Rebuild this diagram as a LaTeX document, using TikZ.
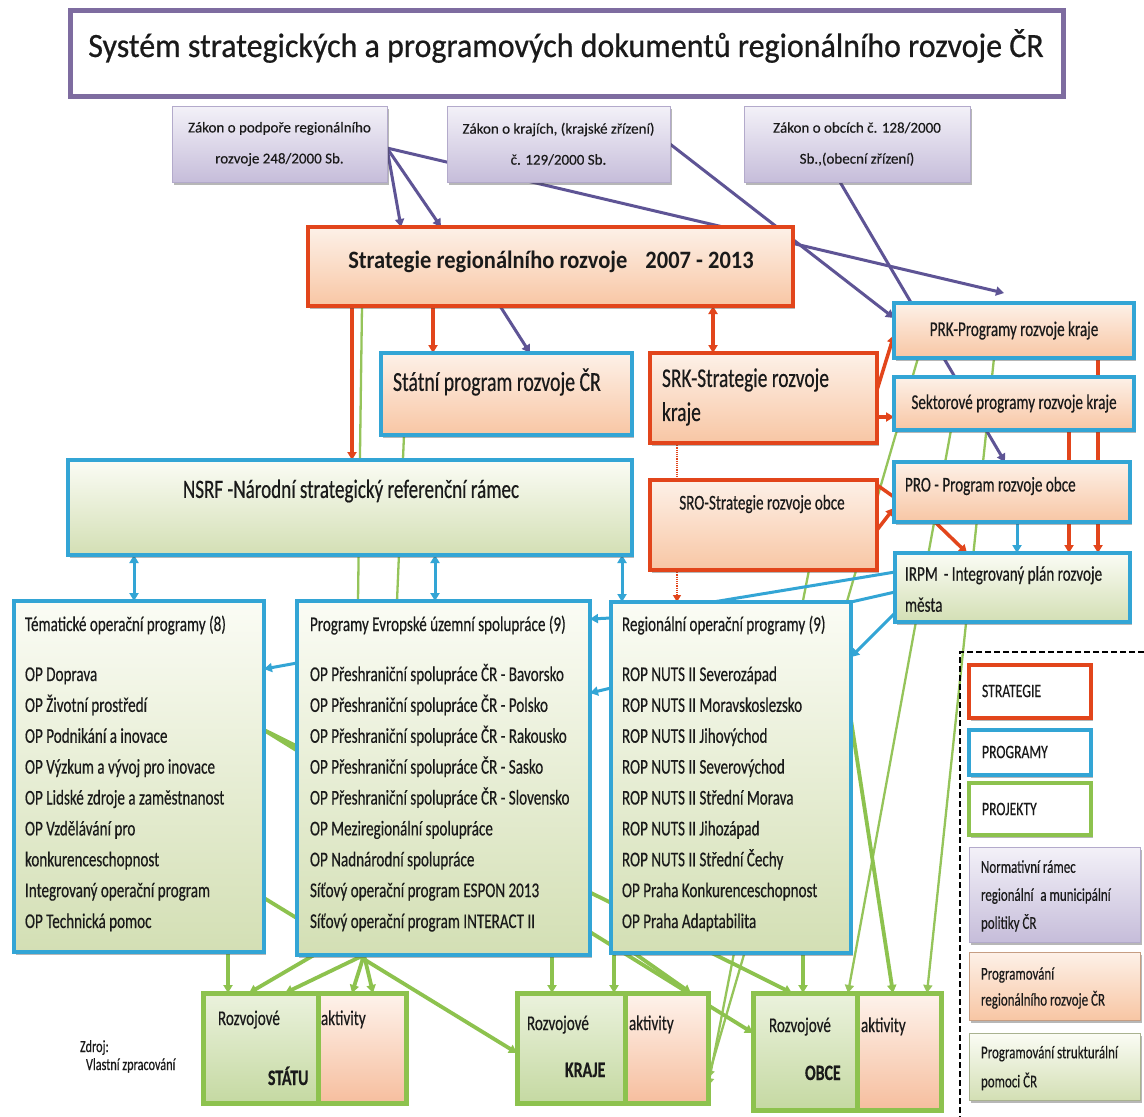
\documentclass[tikz,border=0pt]{standalone}
\usepackage{fontspec}
\setmainfont{Carlito}[FakeBold=0.3]
\newfontfamily\fA{Carlito}[FakeStretch=0.72,FakeBold=0.4]
\newfontfamily\fT{Carlito}[FakeStretch=0.94,FakeBold=0.6]
\newfontfamily\fS{Carlito}[FakeStretch=0.9]
\usetikzlibrary{arrows.meta,shadows,calc}
\pgfdeclarelayer{bg}
\pgfsetlayers{bg,main}
\definecolor{cpur}{HTML}{5E5495}
\definecolor{ctitle}{HTML}{7E6CA0}
\definecolor{lawT}{HTML}{F3F1F8}
\definecolor{lawB}{HTML}{C6BDDA}
\definecolor{lawD}{HTML}{B3AACB}
\definecolor{cred}{HTML}{E2451B}
\definecolor{peachT}{HTML}{FDF1E8}
\definecolor{peachB}{HTML}{F8C6A4}
\definecolor{cblue}{HTML}{33A5D5}
\definecolor{grT}{HTML}{FBFCF5}
\definecolor{grB}{HTML}{D3DFB4}
\definecolor{cgreen}{HTML}{8DC24E}
\definecolor{cgl}{HTML}{95C45A}
\definecolor{txt}{HTML}{1A1A1A}
\definecolor{rozT}{HTML}{EBF2DD}
\definecolor{rozBt}{HTML}{C5D9A2}
\definecolor{aktT}{HTML}{FEF3EC}
\definecolor{aktB}{HTML}{F6BE9E}
\tikzset{
  shad/.style={drop shadow={shadow xshift=2pt,shadow yshift=-3pt,opacity=0.4,fill=black!70}},
  bx/.style={anchor=north west,inner sep=0pt,outer sep=0pt,text=txt,shad},
  titlebox/.style={bx,draw=ctitle,line width=5pt,fill=white},
  lawbox/.style={bx,draw=lawD,line width=0.8pt,top color=lawT,bottom color=lawB,align=center,font=\fontsize{15}{31}\selectfont},
  redbox/.style={bx,draw=cred,line width=3.5pt,top color=peachT,bottom color=peachB},
  bluepeach/.style={bx,draw=cblue,line width=3.5pt,top color=peachT,bottom color=peachB,font=\fA\fontsize{21}{25}\selectfont},
  bluegreen/.style={bx,draw=cblue,line width=3.5pt,top color=grT,bottom color=grB},
  rozleft/.style={bx,draw=cgreen,line width=5pt,top color=rozT,bottom color=rozBt},
  rozright/.style={bx,draw=cgreen,line width=5pt,top color=aktT,bottom color=aktB},
  legbox/.style={bx,line width=4pt,fill=white,minimum width=122pt},
  lbl/.style={inner sep=0pt,outer sep=0pt,text=txt},
  it/.style={lbl,anchor=base west,font=\fA\fontsize{21}{25}\selectfont},
  itb/.style={lbl,anchor=base west,font=\fA\bfseries\fontsize{22}{26}\selectfont},
  lg/.style={lbl,anchor=west,align=left,font=\fA\fontsize{19}{28}\selectfont},
  tip/.style={-{Triangle[length=8pt,width=9pt]}},
  tips/.style={{Triangle[length=8pt,width=9pt]}-{Triangle[length=8pt,width=9pt]}},
  pl/.style={draw=cpur,line width=3pt,tip},
  rl/.style={draw=cred,line width=3.5pt},
  bl/.style={draw=cblue,line width=3pt},
  gl/.style={draw=cgl,line width=2.3pt},
  gL/.style={draw=cgreen,line width=3.8pt,tip},
}
\begin{document}
\begin{tikzpicture}[x=1pt,y=-1pt]
\useasboundingbox (0,0) rectangle (1144,1117);

% title
\node[titlebox,minimum width=993pt,minimum height=86pt] (title) at (70,10) {};
\node[lbl,font=\fT\fontsize{34}{40}\selectfont] (titletxt) at (566,46) {Systém strategických a programových dokumentů regionálního rozvoje ČR};

% laws
\node[lawbox,minimum width=215pt,minimum height=76pt] (law1) at (172,106) {Zákon o podpoře regionálního\\rozvoje 248/2000 Sb.};
\node[lawbox,minimum width=223pt,minimum height=76pt] (law2) at (447,106) {Zákon o krajích, (krajské zřízení)\\č. 129/2000 Sb.};
\node[lawbox,minimum width=226pt,minimum height=76pt] (law3) at (744,106) {Zákon o obcích č. 128/2000\\Sb.,(obecní zřízení)};

% strategy
\node[redbox,minimum width=485pt,minimum height=79pt] (strat) at (308,227) {};
\node[lbl,font=\fS\bfseries\fontsize{25}{30}\selectfont] (strattxt) at (551,262) {Strategie regionálního rozvoje\hspace{18pt}2007 - 2013};

\node[bluepeach,minimum width=251pt,minimum height=82pt] (statni) at (381,353) {};
\node[lbl,anchor=west,font=\fA\fontsize{27.5}{33}\selectfont] (statnitxt) at (393,382) {Státní program rozvoje ČR};

\node[redbox,minimum width=227pt,minimum height=90pt] (srk) at (650,353) {};
\node[lbl,anchor=west,align=left,font=\fA\fontsize{27}{34}\selectfont] (srktxt) at (662,397) {SRK-Strategie rozvoje\\kraje};

\node[bluepeach,minimum width=240pt,minimum height=55pt] (prk) at (894,303) {PRK-Programy rozvoje kraje};
\node[bluepeach,minimum width=240pt,minimum height=53pt] (sekt) at (894,377) {Sektorové programy rozvoje kraje};
\node[bluepeach,minimum width=236pt,minimum height=60pt] (pro) at (894,462) {};
\node[lbl,anchor=west,font=\fA\fontsize{21}{25}\selectfont] (protxt) at (905,486) {PRO - Program rozvoje obce};
\node[bluegreen,minimum width=235pt,minimum height=69pt] (irpm) at (895,553) {};
\node[lbl,anchor=west,align=left,font=\fA\fontsize{21}{31}\selectfont] (irpmtxt) at (905,589) {IRPM\hspace{6pt}- Integrovaný plán rozvoje\\města};

\node[redbox,minimum width=227pt,minimum height=90pt] (sro) at (650,480) {};
\node[lbl,font=\fA\fontsize{21}{25}\selectfont] (srotxt) at (762,504) {SRO-Strategie rozvoje obce};

\node[bluegreen,minimum width=564pt,minimum height=95pt] (nsrf) at (68,460) {};
\node[lbl,font=\fA\fontsize{26.5}{30}\selectfont] (nsrftxt) at (351,491) {NSRF -Národní strategický referenční rámec};

% operational programmes
\node[bluegreen,minimum width=250pt,minimum height=351pt] (tem) at (14,601) {};
\node[bluegreen,minimum width=293pt,minimum height=354pt] (evr) at (297,601) {};
\node[bluegreen,minimum width=240pt,minimum height=351pt] (reg) at (611,602) {};

\node[it] (temh) at (25,631) {Tématické operační programy (8)};
\foreach \itm [count=\i] in {OP Doprava,OP Životní prostředí,OP Podnikání a inovace,OP Výzkum a vývoj pro inovace,OP Lidské zdroje a zaměstnanost,OP Vzdělávání pro,konkurenceschopnost,Integrovaný operační program,OP Technická pomoc}
  \node[it] (tem\i) at (25,{681+30.875*(\i-1)}) {\itm};

\node[it] (evrh) at (310,631) {Programy Evropské územní spolupráce (9)};
\foreach \itm [count=\i] in {OP Přeshraniční spolupráce ČR - Bavorsko,OP Přeshraniční spolupráce ČR - Polsko,OP Přeshraniční spolupráce ČR - Rakousko,OP Přeshraniční spolupráce ČR - Sasko,OP Přeshraniční spolupráce ČR - Slovensko,OP Meziregionální spolupráce,OP Nadnárodní spolupráce,Síťový operační program ESPON 2013,Síťový operační program INTERACT II}
  \node[it] (evr\i) at (310,{681+30.875*(\i-1)}) {\itm};

\node[it] (regh) at (622,631) {Regionální operační programy (9)};
\foreach \itm [count=\i] in {ROP NUTS II Severozápad,ROP NUTS II Moravskoslezsko,ROP NUTS II Jihovýchod,ROP NUTS II Severovýchod,ROP NUTS II Střední Morava,ROP NUTS II Jihozápad,ROP NUTS II Střední Čechy,OP Praha Konkurenceschopnost,OP Praha Adaptabilita}
  \node[it] (reg\i) at (622,{681+30.875*(\i-1)}) {\itm};

% development activity boxes
\node[rozleft,minimum width=115pt,minimum height=110pt] (statuA) at (203,993) {};
\node[rozright,minimum width=88pt,minimum height=110pt] (statuB) at (318,993) {};
\node[it] (statuR) at (218,1025) {Rozvojové};
\node[it] (statuK) at (321,1025) {aktivity};
\node[itb] (statuL) at (268,1085) {STÁTU};

\node[rozleft,minimum width=108pt,minimum height=110pt] (krajeA) at (517,993) {};
\node[rozright,minimum width=83pt,minimum height=110pt] (krajeB) at (625,993) {};
\node[it] (krajeR) at (527,1030) {Rozvojové};
\node[it] (krajeK) at (629,1030) {aktivity};
\node[itb] (krajeL) at (565,1077) {KRAJE};

\node[rozleft,minimum width=104pt,minimum height=117pt] (obceA) at (753,993) {};
\node[rozright,minimum width=84pt,minimum height=117pt] (obceB) at (857,993) {};
\node[it] (obceR) at (769,1032) {Rozvojové};
\node[it] (obceK) at (861,1032) {aktivity};
\node[itb] (obceL) at (805,1080) {OBCE};

\node[lbl,anchor=base west,font=\fA\fontsize{17}{20}\selectfont] (zdroj) at (80,1052) {Zdroj:};
\node[lbl,anchor=base west,font=\fA\fontsize{17}{20}\selectfont] (vlastni) at (86,1070) {Vlastní zpracování};

% legend
\coordinate (dA) at (1144,652);
\coordinate (dB) at (960,652);
\coordinate (dC) at (960,1117);
\draw[line width=1.3pt,dash pattern=on 6pt off 3pt] (dA) -- (dB) -- (dC);
\node[legbox,draw=cred,minimum height=53pt] (lgS) at (969,665) {};
\node[lg] (lgStxt) at (982,691) {STRATEGIE};
\node[legbox,draw=cblue,minimum height=45pt] (lgP) at (969,730) {};
\node[lg] (lgPtxt) at (982,752) {PROGRAMY};
\node[legbox,draw=cgreen,minimum height=52pt] (lgJ) at (969,783) {};
\node[lg] (lgJtxt) at (982,809) {PROJEKTY};
\node[bx,draw=lawD,line width=0.8pt,top color=lawT,bottom color=lawB,minimum width=171pt,minimum height=95pt] (lgN) at (969,847) {};
\node[lg,font=\fA\fontsize{18}{28}\selectfont] (lgNtxt) at (981,896) {Normativní rámec\\regionální\hspace{4pt} a municipální\\politiky ČR};
\node[bx,draw=peachB!80!black,line width=0.6pt,top color=peachT,bottom color=peachB,minimum width=171pt,minimum height=68pt] (lgR) at (969,952) {};
\node[lg,font=\fA\fontsize{18}{26}\selectfont] (lgRtxt) at (981,988) {Programování\\regionálního rozvoje ČR};
\node[bx,draw=grB!80!black,line width=0.6pt,top color=grT,bottom color=grB,minimum width=171pt,minimum height=67pt] (lgT) at (969,1033) {};
\node[lg,font=\fA\fontsize{18}{29}\selectfont] (lgTtxt) at (981,1068) {Programování strukturální\\pomoci ČR};

\coordinate (pfree) at (1004,293);

% connectors behind the boxes
\begin{pgfonlayer}{bg}
\fill[white] (0,0) rectangle (1144,1117);
% green upper
\draw[gl] ([xshift=54pt]strat.south west) -- ([xshift=61pt]evr.north west);
\draw[gl] ([xshift=23pt]statni.south west) -- ([xshift=100pt]evr.north west);
\draw[gl,tip] ([xshift=100pt]prk.south west) -- ([xshift=70pt]obceB.north west);
\draw[gl,tip] ([xshift=57pt]sekt.south west) -- ([xshift=95pt]obceA.north west);
\draw[gl,tip] ([xshift=24pt]prk.south west) -- ([yshift=-85pt]krajeB.north east);
\draw[gl,tip] ([xshift=159pt]sro.south west) -- ([yshift=-93pt]krajeB.north east);
% green lower
\draw[gL] ([xshift=214pt]tem.south west) -- ([xshift=25pt]statuA.north west);
\draw[gL] ([xshift=17pt]evr.south west) -- ([xshift=46pt]statuA.north west);
\draw[gL] ([xshift=67pt]evr.south west) -- ([xshift=82pt]statuA.north west);
\draw[gL] ([xshift=67pt]evr.south west) -- ([xshift=34pt]statuB.north west);
\draw[gL] ([xshift=67pt]evr.south west) -- ([xshift=55pt]statuB.north west);
\draw[gL] ([yshift=-297pt]tem.north east) -- ([yshift=-60pt]krajeA.north west);
\draw[gL] ([xshift=255pt]evr.south west) -- ([xshift=35pt]krajeA.north west);
\draw[gL] ([xshift=3pt]reg.south west) -- ([xshift=97pt]krajeA.north west);
\draw[gL] ([xshift=23pt]reg.south west) -- ([xshift=66pt]krajeB.north west);
\draw[gL] ([xshift=192pt]reg.south west) -- ([xshift=50pt]obceA.north west);
\draw[gL] ([yshift=-118pt]reg.north east) -- ([xshift=36pt]obceB.north west);
\draw[gL] ([yshift=-129pt]tem.north east) -- ([yshift=-40pt]obceA.north west);
\draw[gL] ([yshift=-129pt]tem.north east) -- ([xshift=39pt]obceA.north west);
% purple
\draw[pl] ([yshift=-4pt]law1.east) -- ([xshift=93pt]strat.north west);
\draw[pl] ([yshift=-4pt]law1.east) -- ([xshift=133pt]strat.north west);
\draw[pl] ([yshift=-4pt]law1.east) -- (pfree);
\draw[pl] (law2.east) -- ([yshift=-15pt]prk.north west);
\draw[pl] ([xshift=96pt]law3.south west) -- ([xshift=111pt]pro.north west);
\draw[pl] ([xshift=192pt]strat.south west) -- ([xshift=149pt]statni.north west);
% red
\draw[rl,tip] ([xshift=44pt]strat.south west) -- ([xshift=284pt]nsrf.north west);
\draw[rl,tip] ([xshift=125pt]strat.south west) -- ([xshift=52pt]statni.north west);
\draw[rl,tips] ([xshift=405pt]strat.south west) -- ([xshift=63pt]srk.north west);
\draw[rl,tip] ([yshift=-37pt]srk.north east) -- ([yshift=-32pt]prk.north west);
\draw[rl,tip] ([yshift=-64pt]srk.north east) -- ([yshift=-40pt]sekt.north west);
\draw[rl] ([yshift=-5pt]sro.north east) -- ([yshift=-35pt]pro.north west);
\draw[rl,tip] ([yshift=-50pt]sro.north east) -- ([yshift=-46pt]pro.north west);
\draw[rl,tip] ([xshift=41pt]pro.south west) -- ([xshift=72pt]irpm.north west);
\draw[rl,tip] ([xshift=204pt]prk.south west) -- ([xshift=203pt]irpm.north west);
\draw[rl,tip] ([xshift=175pt]sekt.south west) -- ([xshift=174pt]irpm.north west);
\draw[draw=cred,line width=1.2pt,densely dotted] ([xshift=27pt]srk.south west) -- ([xshift=27pt]sro.north west);
\draw[draw=cred,line width=1.2pt,densely dotted,-{Triangle[length=7pt,width=8pt]}] ([xshift=27pt]sro.south west) -- ([xshift=66pt]reg.north west);
% blue
\draw[bl,tips] ([xshift=66pt]nsrf.south west) -- ([xshift=120pt]tem.north west);
\draw[bl,tips] ([xshift=367pt]nsrf.south west) -- ([xshift=138pt]evr.north west);
\draw[bl,tips] ([xshift=554pt]nsrf.south west) -- ([xshift=11pt]reg.north west);
\draw[bl,tip] ([yshift=-62pt]evr.north west) -- ([yshift=-68pt]tem.north east);
\draw[bl,tip] ([yshift=-16pt]reg.north west) -- ([yshift=-18pt]evr.north east);
\draw[bl,tip] ([yshift=-86pt]reg.north west) -- ([yshift=-92pt]evr.north east);
\draw[bl] ([yshift=-19pt]irpm.north west) -- ([xshift=102pt]reg.north west);
\draw[bl] ([yshift=-39pt]irpm.north west) -- (reg.north east);
\draw[bl,tip] ([yshift=-60pt]irpm.north west) -- ([yshift=-55pt]reg.north east);
\draw[bl,tip] ([xshift=123pt]pro.south west) -- ([xshift=122pt]irpm.north west);
\end{pgfonlayer}
\end{tikzpicture}
\end{document}
